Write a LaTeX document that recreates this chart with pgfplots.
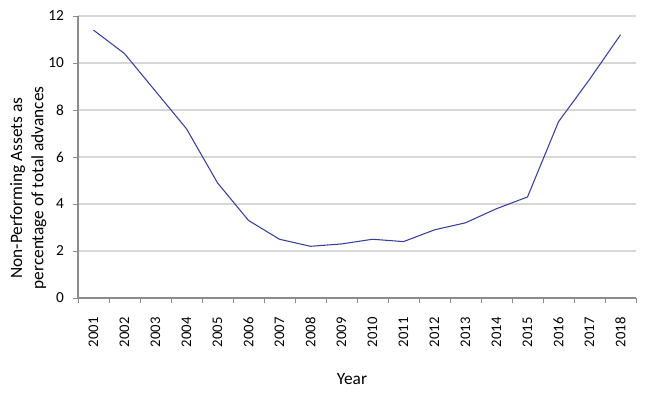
\documentclass[border=0pt]{standalone}
\usepackage{pgfplots}
\pgfplotsset{compat=1.18}
\usepackage{fontspec}
\setmainfont{Carlito}
\definecolor{lineblue}{RGB}{58,64,152}
\definecolor{gridgray}{RGB}{215,215,215}
\definecolor{axgray}{RGB}{140,140,140}
\begin{document}
\begin{tikzpicture}[x=0.75pt,y=0.75pt]
\path[use as bounding box] (-78,-106) rectangle (572,298);
\begin{axis}[
  scale only axis,
  width=558*0.75pt, height=282*0.75pt,
  xmin=-0.5, xmax=17.5, ymin=0, ymax=12,
  ytick={0,2,...,12},
  xtick={0,...,17},
  xticklabels={2001,2002,2003,2004,2005,2006,2007,2008,2009,2010,2011,2012,2013,2014,2015,2016,2017,2018},
  minor xtick={-0.5,0.5,...,17.5},
  major x tick style={draw=none},
  minor x tick style={axgray},
  minor tick length=4pt,
  tick align=outside,
  ytick style={axgray},
  major tick length=4pt,
  xticklabel style={rotate=90, anchor=east, font=\fontsize{11}{12}\selectfont, xshift=-7pt},
  yticklabel style={font=\fontsize{11.5}{12}\selectfont, xshift=-3pt},
  /pgf/number format/assume math mode=true,
  axis x line*=bottom,
  axis y line*=left,
  axis line style={axgray, line width=0.8pt},
  x axis line style={-}, y axis line style={-},
  ymajorgrids, grid style={gridgray, line width=0.8pt},
  xlabel={Year},
  ylabel={Non-Performing Assets as\\percentage of total advances},
  xlabel style={at={(axis description cs:0.491,-0.286)}, anchor=center, font=\fontsize{13}{15}\selectfont},
  ylabel style={at={(axis description cs:-0.089,0.39)}, anchor=center, align=center, font=\fontsize{13}{16}\selectfont},
  clip=false,
]
\addplot[lineblue, line width=0.8pt, mark=none] coordinates {
(0,11.4) (1,10.4) (2,8.8) (3,7.2) (4,4.9) (5,3.3) (6,2.5) (7,2.2) (8,2.3)
(9,2.5) (10,2.4) (11,2.9) (12,3.2) (13,3.8) (14,4.3) (15,7.5) (16,9.3) (17,11.2)
};
\end{axis}
\end{tikzpicture}
\end{document}
